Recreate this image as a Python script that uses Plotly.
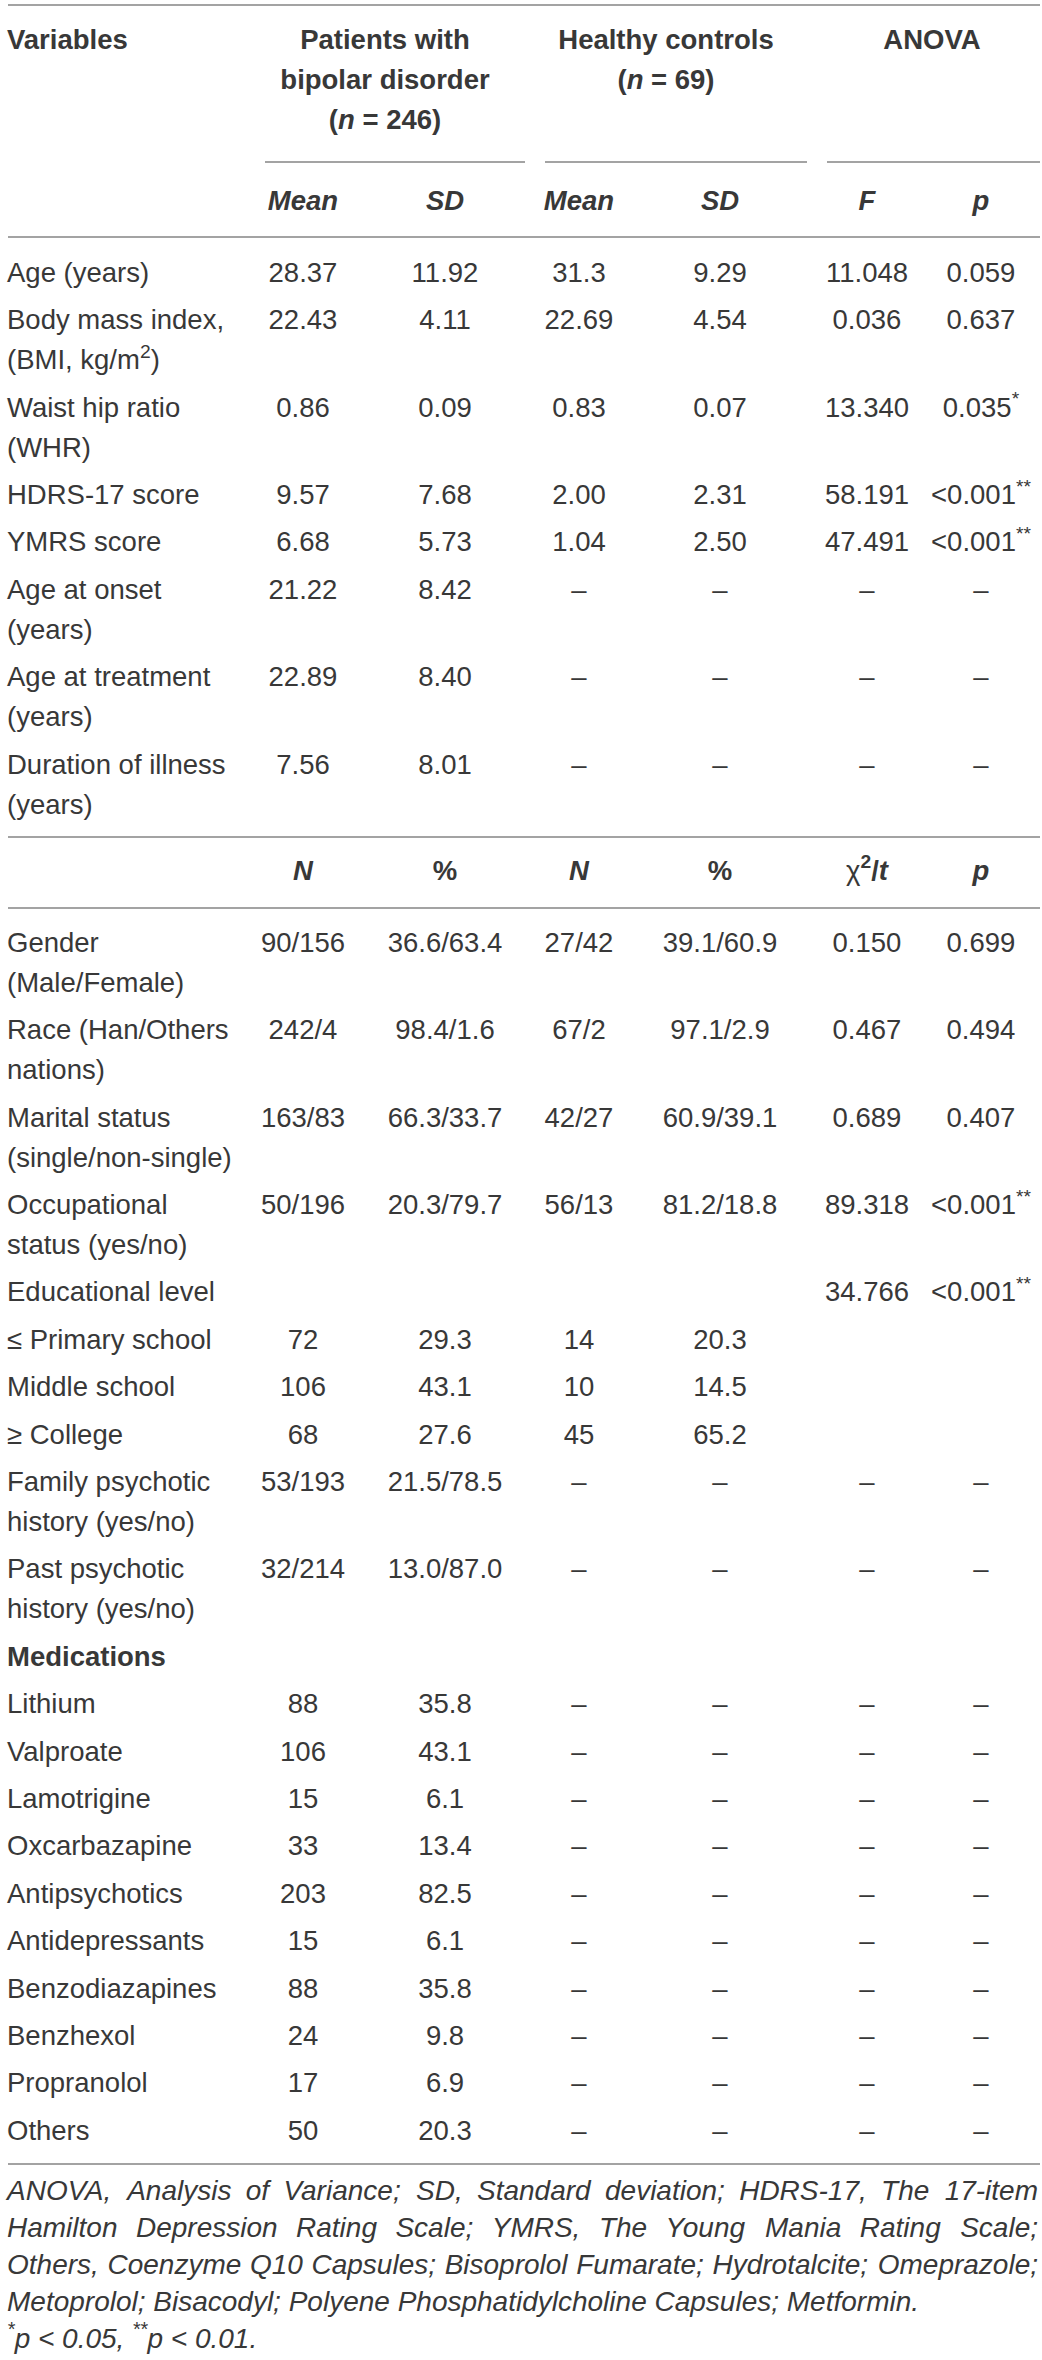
import plotly.graph_objects as go

# ---- table content ----
HEAD_GROUPS = [["Patients with", "bipolar disorder", "(<i>n</i> = 246)"],
               ["Healthy controls", "(<i>n</i> = 69)"],
               ["ANOVA"]]
SUB_HEAD_1 = ["<i>Mean</i>", "<i>SD</i>", "<i>Mean</i>", "<i>SD</i>", "<i>F</i>", "<i>p</i>"]
SUB_HEAD_2 = ["<i>N</i>", "%", "<i>N</i>", "%",
              "<span style='font-weight:normal'>χ</span><sup>2</sup>/<i>t</i>", "<i>p</i>"]

cont_labels = [["Age (years)"],
               ["Body mass index,", "(BMI, kg/m<sup>2</sup>)"],
               ["Waist hip ratio", "(WHR)"],
               ["HDRS-17 score"],
               ["YMRS score"],
               ["Age at onset", "(years)"],
               ["Age at treatment", "(years)"],
               ["Duration of illness", "(years)"]]
bd_mean = ["28.37", "22.43", "0.86", "9.57", "6.68", "21.22", "22.89", "7.56"]
bd_sd = ["11.92", "4.11", "0.09", "7.68", "5.73", "8.42", "8.40", "8.01"]
hc_mean = ["31.3", "22.69", "0.83", "2.00", "1.04", "–", "–", "–"]
hc_sd = ["9.29", "4.54", "0.07", "2.31", "2.50", "–", "–", "–"]
anova_f = ["11.048", "0.036", "13.340", "58.191", "47.491", "–", "–", "–"]
anova_p = ["0.059", "0.637", "0.035<sup>*</sup>", "&lt;0.001<sup>**</sup>",
           "&lt;0.001<sup>**</sup>", "–", "–", "–"]

D = "–"
cat_labels = [["Gender", "(Male/Female)"],
              ["Race (Han/Others", "nations)"],
              ["Marital status", "(single/non-single)"],
              ["Occupational", "status (yes/no)"],
              ["Educational level"],
              ["≤ Primary school"],
              ["Middle school"],
              ["≥ College"],
              ["Family psychotic", "history (yes/no)"],
              ["Past psychotic", "history (yes/no)"],
              ["<b>Medications</b>"],
              ["Lithium"], ["Valproate"], ["Lamotrigine"], ["Oxcarbazapine"],
              ["Antipsychotics"], ["Antidepressants"], ["Benzodiazapines"],
              ["Benzhexol"], ["Propranolol"], ["Others"]]
bd_n = ["90/156", "242/4", "163/83", "50/196", "", "72", "106", "68", "53/193", "32/214", "",
        "88", "106", "15", "33", "203", "15", "88", "24", "17", "50"]
bd_pct = ["36.6/63.4", "98.4/1.6", "66.3/33.7", "20.3/79.7", "", "29.3", "43.1", "27.6",
          "21.5/78.5", "13.0/87.0", "",
          "35.8", "43.1", "6.1", "13.4", "82.5", "6.1", "35.8", "9.8", "6.9", "20.3"]
hc_n = ["27/42", "67/2", "42/27", "56/13", "", "14", "10", "45", D, D, ""] + [D] * 10
hc_pct = ["39.1/60.9", "97.1/2.9", "60.9/39.1", "81.2/18.8", "", "20.3", "14.5", "65.2",
          D, D, ""] + [D] * 10
chi_t = ["0.150", "0.467", "0.689", "89.318", "34.766", "", "", "", D, D, ""] + [D] * 10
cat_p = ["0.699", "0.494", "0.407", "&lt;0.001<sup>**</sup>", "&lt;0.001<sup>**</sup>",
         "", "", "", D, D, ""] + [D] * 10

footnote = ["ANOVA, Analysis of Variance; SD, Standard deviation; HDRS-17, The 17-item",
            "Hamilton Depression Rating Scale; YMRS, The Young Mania Rating Scale;",
            "Others, Coenzyme Q10 Capsules; Bisoprolol Fumarate; Hydrotalcite; Omeprazole;",
            "Metoprolol; Bisacodyl; Polyene Phosphatidylcholine Capsules; Metformin.",
            "<sup>*</sup>p &lt; 0.05, <sup>**</sup>p &lt; 0.01."]
JUSTIFY = [True, True, True, False, False]

# ---- layout geometry ----
W, H = 1042, 2360
LEFT, RIGHT = 8, 1040
COL_X = [303, 445, 579, 720, 867, 981]
GROUP_X = [385, 666, 932]
LINE = 40
STEP = 47.4
FONT = "Liberation Sans, Arial, Helvetica, sans-serif"
TXT = "#383838"
RULE = "#a3a3a3"
FS = 27.5
FN_FS = 28

# rough Arial advance widths (1/1000 em), used only to justify the footnote
CW = dict(zip("ABCDEFGHIJKLMNOPQRSTUVWXYZ",
              [667, 667, 722, 722, 667, 611, 778, 722, 278, 500, 667, 556, 833,
               722, 778, 667, 778, 722, 667, 611, 722, 667, 944, 667, 667, 611]))
CW.update(zip("abcdefghijklmnopqrstuvwxyz",
              [556, 556, 500, 556, 556, 278, 556, 556, 222, 222, 500, 222, 833,
               556, 556, 556, 556, 333, 500, 278, 556, 500, 722, 500, 500, 500]))
CW.update({c: 556 for c in "0123456789"})
CW.update({" ": 278, ",": 278, ".": 278, ";": 278, ":": 278, "-": 333,
           "(": 333, ")": 333, "/": 278})


def text_width(s, size):
    return sum(CW.get(c, 556) for c in s) * size / 1000.0


fig = go.Figure()


def add_text(xs, ys, texts, pos="middle center", size=FS):
    fig.add_trace(go.Scatter(
        x=xs, y=ys, text=texts, mode="text", textposition=pos, cliponaxis=False,
        textfont=dict(family=FONT, size=size, color=TXT),
        hoverinfo="skip", showlegend=False))


def add_section(labels, cols, y0):
    ys_lab, txt_lab = [], []
    xs_val, ys_val, txt_val = [], [], []
    y = y0
    for i, lines in enumerate(labels):
        for k, ln in enumerate(lines):
            ys_lab.append(y + k * LINE)
            txt_lab.append(ln)
        for cx, col in zip(COL_X, cols):
            if col[i]:
                xs_val.append(cx)
                ys_val.append(y)
                txt_val.append(col[i])
        y += STEP + LINE * (len(lines) - 1)
    add_text([LEFT - 1] * len(ys_lab), ys_lab, txt_lab, pos="middle right")
    add_text(xs_val, ys_val, txt_val)


# header
add_text([LEFT - 1], [42], ["<b>Variables</b>"], pos="middle right")
hx, hy, ht = [], [], []
for gx, lines in zip(GROUP_X, HEAD_GROUPS):
    for k, ln in enumerate(lines):
        hx.append(gx)
        hy.append(42 + k * LINE)
        ht.append("<b>" + ln + "</b>")
add_text(hx, hy, ht)
add_text(COL_X, [203] * 6, ["<b>" + s + "</b>" for s in SUB_HEAD_1])
add_text(COL_X, [873] * 6, ["<b>" + s + "</b>" for s in SUB_HEAD_2])

add_section(cont_labels, [bd_mean, bd_sd, hc_mean, hc_sd, anova_f, anova_p], 275)
add_section(cat_labels, [bd_n, bd_pct, hc_n, hc_pct, chi_t, cat_p], 945)

# footnote, first lines spread to the full table width
fx, fy, ft, fp = [], [], [], []
for i, (line, just) in enumerate(zip(footnote, JUSTIFY)):
    y = 2193 + i * 37
    words = line.split(" ")
    if just and len(words) > 1:
        wsum = sum(text_width(w, FN_FS) for w in words)
        gap = max((RIGHT - 2 - LEFT - wsum) / (len(words) - 1), 0.2 * FN_FS)
        x = LEFT
        for j, w in enumerate(words):
            last = j == len(words) - 1
            fx.append(RIGHT - 2 if last else x - 1)
            fy.append(y)
            ft.append("<i>" + w + "</i>")
            fp.append("middle left" if last else "middle right")
            x += text_width(w, FN_FS) + gap
    else:
        fx.append(LEFT - 1)
        fy.append(y)
        ft.append("<i>" + line + "</i>")
        fp.append("middle right")
add_text(fx, fy, ft, pos=fp, size=FN_FS)

# rules
rules = [(5, LEFT, RIGHT), (162, 265, 525), (162, 545, 807), (162, 827, RIGHT),
         (237, LEFT, RIGHT), (837, LEFT, RIGHT), (908, LEFT, RIGHT), (2164, LEFT, RIGHT)]
for y, x0, x1 in rules:
    fig.add_shape(type="line", x0=x0, x1=x1, y0=y, y1=y, xref="x", yref="y",
                  line=dict(color=RULE, width=2))

fig.update_layout(
    width=W, height=H, margin=dict(l=0, r=0, t=0, b=0),
    paper_bgcolor="white", plot_bgcolor="white",
    xaxis=dict(range=[0, W], visible=False, fixedrange=True),
    yaxis=dict(range=[H, 0], visible=False, fixedrange=True),
)

# page body has a default 8px margin; drop it so the figure sits at the window origin
fig.write_html("out.html", config={"displayModeBar": False},
               post_script="document.body.style.margin='0';")
